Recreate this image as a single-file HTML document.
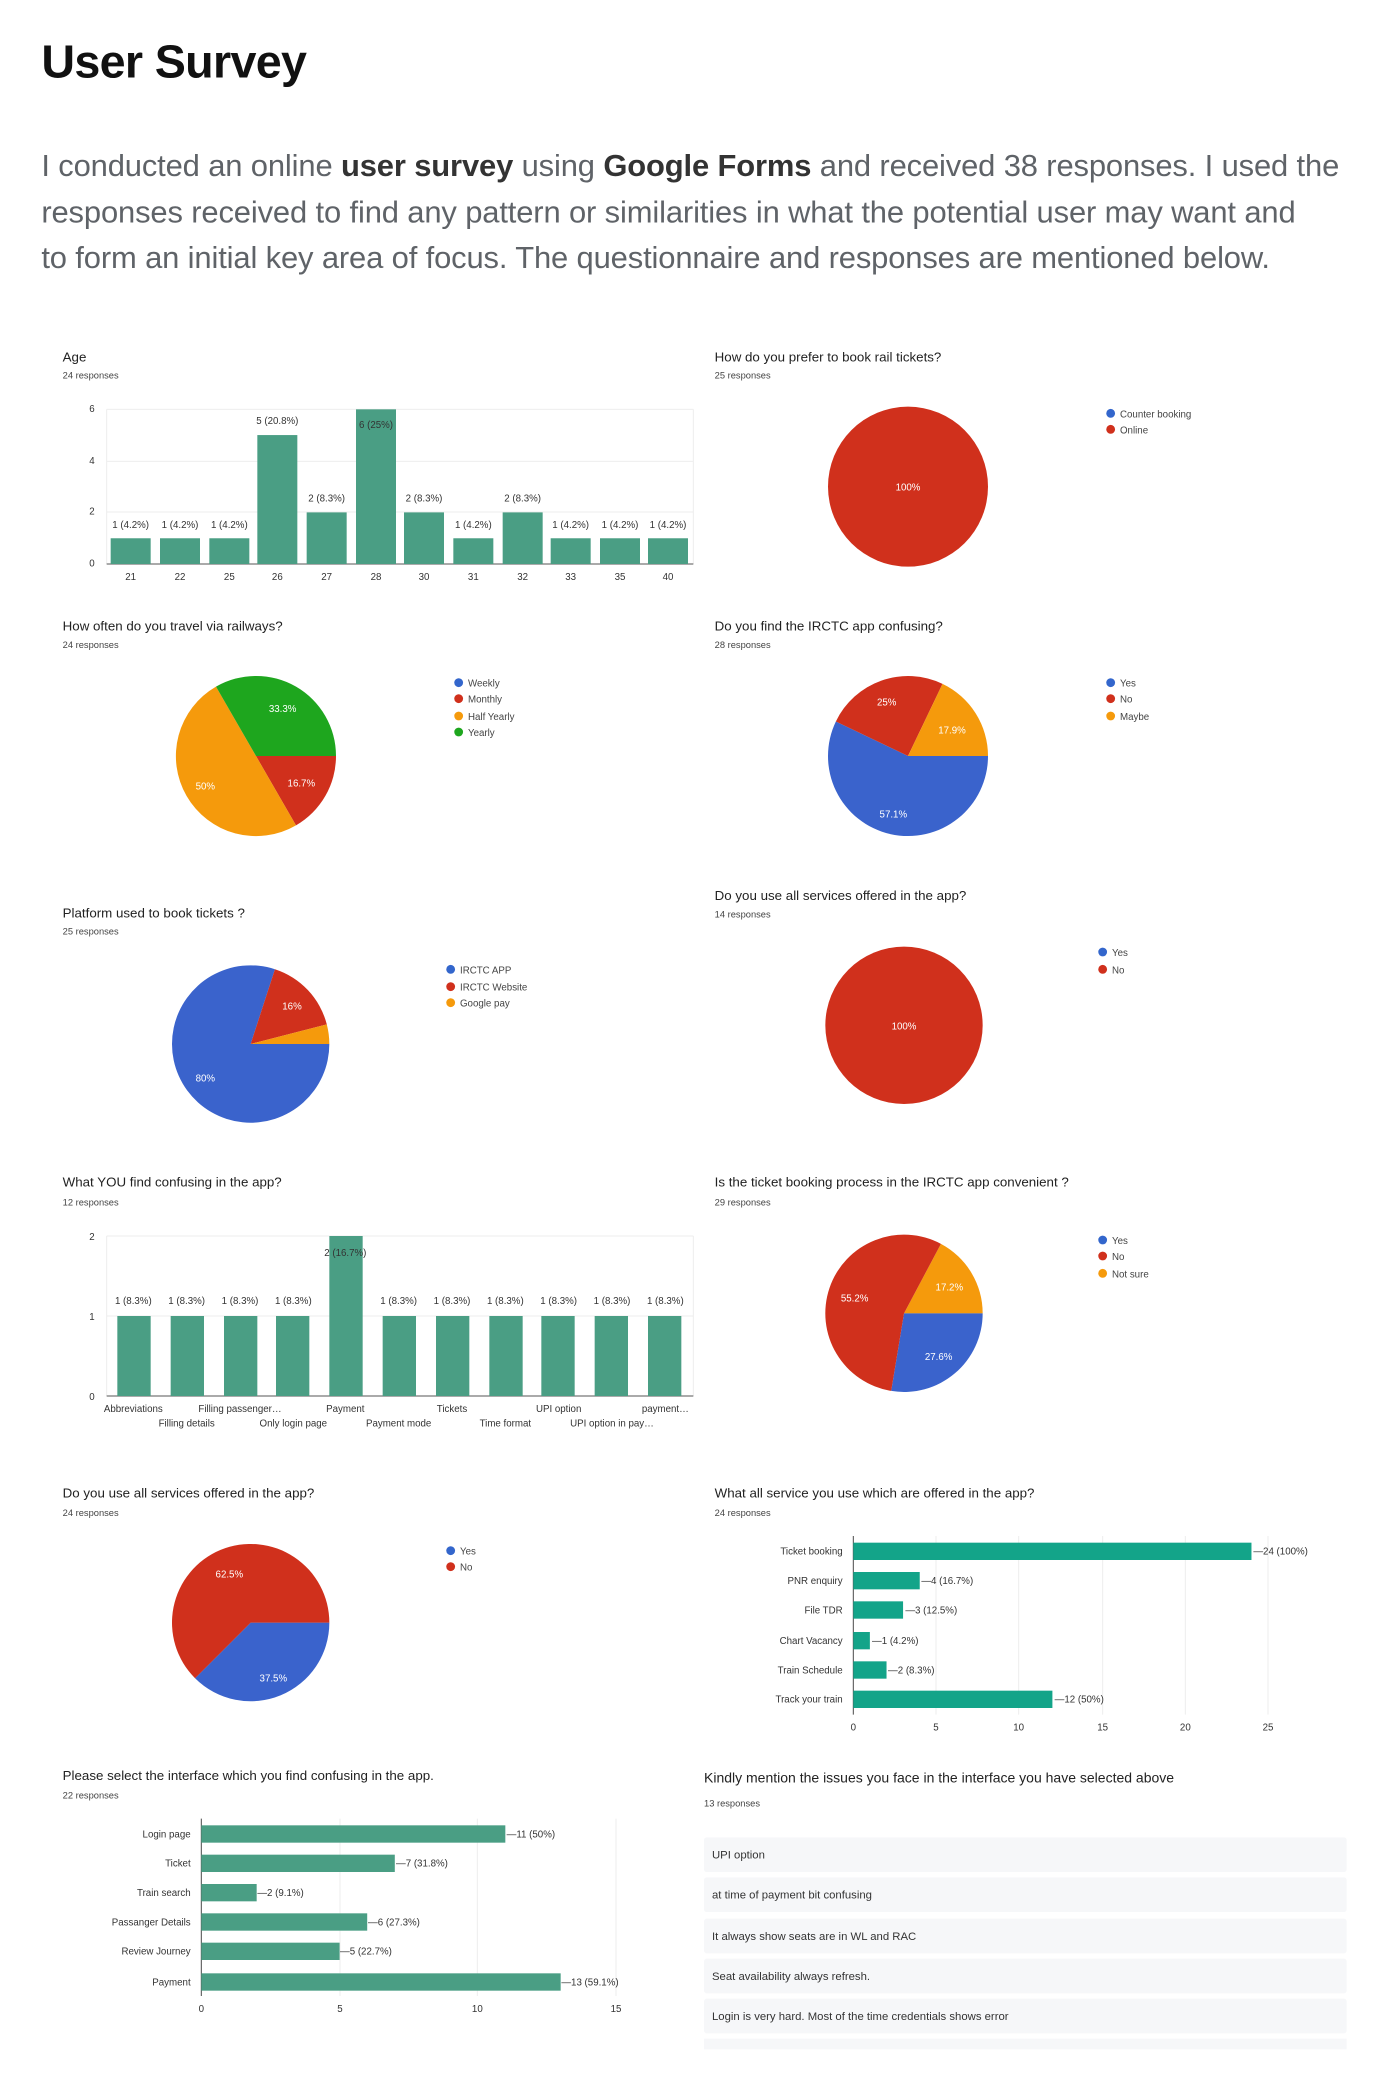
<!DOCTYPE html>
<html><head><meta charset="utf-8"><style>
html,body{margin:0;padding:0;background:#fff;}
svg{display:block}
text{font-family:"Liberation Sans",Arial,sans-serif;fill:#333}
.t{font-size:10px;fill:#222}
.r{font-size:7px;fill:#444}
.s{font-size:7.3px;fill:#444}
.w{font-size:7.3px;fill:#fff}
.g{stroke:#ececec;stroke-width:0.7}
</style></head><body>
<svg width="1400" height="2092" viewBox="0 0 1050 1569" preserveAspectRatio="none" xmlns="http://www.w3.org/2000/svg">
<rect width="1050" height="1569" fill="#fff"/>
<text x="31" y="58" style="font-size:35px;font-weight:bold;fill:#111;letter-spacing:-0.5px">User Survey</text>
<g style="font-size:23.2px;letter-spacing:-0.1px">
<text x="31" y="132" style="fill:#5f6368">I conducted an online <tspan style="font-weight:bold;fill:#333">user survey</tspan> using <tspan style="font-weight:bold;fill:#333">Google Forms</tspan> and received 38 responses. I used the</text>
<text x="31" y="167" style="fill:#5f6368">responses received to find any pattern or similarities in what the potential user may want and</text>
<text x="31" y="201" style="fill:#5f6368">to form an initial key area of focus. The questionnaire and responses are mentioned below.</text>
</g>

<!-- Age -->
<text class="t" x="47" y="271">Age</text><text class="r" x="47" y="284">24 responses</text>
<line class="g" x1="80" y1="307" x2="520" y2="307"/><line class="g" x1="80" y1="346" x2="520" y2="346"/><line class="g" x1="80" y1="384" x2="520" y2="384"/>
<line class="g" x1="520" y1="307" x2="520" y2="423"/><line class="g" x1="80" y1="307" x2="80" y2="423"/>
<line x1="80" y1="423" x2="520" y2="423" stroke="#555" stroke-width="0.8"/>
<g class="s" text-anchor="end"><text x="71" y="309">6</text><text x="71" y="348">4</text><text x="71" y="386">2</text><text x="71" y="425">0</text></g>
<g fill="#4a9e84">
<rect x="83" y="403.7" width="30" height="19.3"/><rect x="120" y="403.7" width="30" height="19.3"/><rect x="157" y="403.7" width="30" height="19.3"/>
<rect x="193" y="326.3" width="30" height="96.7"/><rect x="230" y="384.3" width="30" height="38.7"/><rect x="267" y="307" width="30" height="116"/>
<rect x="303" y="384.3" width="30" height="38.7"/><rect x="340" y="403.7" width="30" height="19.3"/><rect x="377" y="384.3" width="30" height="38.7"/>
<rect x="413" y="403.7" width="30" height="19.3"/><rect x="450" y="403.7" width="30" height="19.3"/><rect x="486" y="403.7" width="30" height="19.3"/>
</g>
<g class="s" text-anchor="middle">
<text x="98" y="396">1 (4.2%)</text><text x="135" y="396">1 (4.2%)</text><text x="172" y="396">1 (4.2%)</text><text x="208" y="318">5 (20.8%)</text>
<text x="245" y="376">2 (8.3%)</text><text x="282" y="321">6 (25%)</text><text x="318" y="376">2 (8.3%)</text><text x="355" y="396">1 (4.2%)</text>
<text x="392" y="376">2 (8.3%)</text><text x="428" y="396">1 (4.2%)</text><text x="465" y="396">1 (4.2%)</text><text x="501" y="396">1 (4.2%)</text>
<text x="98" y="435">21</text><text x="135" y="435">22</text><text x="172" y="435">25</text><text x="208" y="435">26</text><text x="245" y="435">27</text><text x="282" y="435">28</text>
<text x="318" y="435">30</text><text x="355" y="435">31</text><text x="392" y="435">32</text><text x="428" y="435">33</text><text x="465" y="435">35</text><text x="501" y="435">40</text>
</g>

<!-- rail tickets -->
<text class="t" x="536" y="271">How do you prefer to book rail tickets?</text><text class="r" x="536" y="284">25 responses</text>
<circle cx="681" cy="365" r="60" fill="#d0301c"/><text class="w" x="681" y="368" text-anchor="middle">100%</text>
<circle cx="833" cy="310" r="3.3" fill="#3366cc"/><text class="s" x="840" y="313">Counter booking</text>
<circle cx="833" cy="322" r="3.3" fill="#d0301c"/><text class="s" x="840" y="325">Online</text>

<!-- travel -->
<text class="t" x="47" y="473">How often do you travel via railways?</text><text class="r" x="47" y="486">24 responses</text>
<path d="M192,567 L252,567 A60,60 0 0 1 222,619 Z" fill="#d0301c"/>
<path d="M192,567 L222,619 A60,60 0 1 1 162,515 Z" fill="#f59a0c"/>
<path d="M192,567 L162,515 A60,60 0 0 1 252,567 Z" fill="#1ea61e"/>
<text class="w" x="212" y="534" text-anchor="middle">33.3%</text><text class="w" x="226" y="590" text-anchor="middle">16.7%</text><text class="w" x="154" y="592" text-anchor="middle">50%</text>
<circle cx="344" cy="512" r="3.3" fill="#3366cc"/><text class="s" x="351" y="515">Weekly</text>
<circle cx="344" cy="524" r="3.3" fill="#d0301c"/><text class="s" x="351" y="527">Monthly</text>
<circle cx="344" cy="537" r="3.3" fill="#f59a0c"/><text class="s" x="351" y="540">Half Yearly</text>
<circle cx="344" cy="549" r="3.3" fill="#1ea61e"/><text class="s" x="351" y="552">Yearly</text>

<!-- confusing -->
<text class="t" x="536" y="473">Do you find the IRCTC app confusing?</text><text class="r" x="536" y="486">28 responses</text>
<path d="M681,567 L741,567 A60,60 0 1 1 626.9,541.1 Z" fill="#3a63cc"/>
<path d="M681,567 L626.9,541.1 A60,60 0 0 1 706.9,512.9 Z" fill="#d0301c"/>
<path d="M681,567 L706.9,512.9 A60,60 0 0 1 741,567 Z" fill="#f59a0c"/>
<text class="w" x="665" y="529" text-anchor="middle">25%</text><text class="w" x="714" y="550" text-anchor="middle">17.9%</text><text class="w" x="670" y="613" text-anchor="middle">57.1%</text>
<circle cx="833" cy="512" r="3.3" fill="#3366cc"/><text class="s" x="840" y="515">Yes</text>
<circle cx="833" cy="524" r="3.3" fill="#d0301c"/><text class="s" x="840" y="527">No</text>
<circle cx="833" cy="537" r="3.3" fill="#f59a0c"/><text class="s" x="840" y="540">Maybe</text>

<!-- platform -->
<text class="t" x="47" y="688">Platform used to book tickets ?</text><text class="r" x="47" y="701">25 responses</text>
<path d="M188,783 L247,783 A59,59 0 1 1 206.2,726.9 Z" fill="#3a63cc"/>
<path d="M188,783 L206.2,726.9 A59,59 0 0 1 245.1,768.3 Z" fill="#d0301c"/>
<path d="M188,783 L245.1,768.3 A59,59 0 0 1 247,783 Z" fill="#f59a0c"/>
<text class="w" x="219" y="757" text-anchor="middle">16%</text><text class="w" x="154" y="811" text-anchor="middle">80%</text>
<circle cx="338" cy="727" r="3.3" fill="#3366cc"/><text class="s" x="345" y="730">IRCTC APP</text>
<circle cx="338" cy="740" r="3.3" fill="#d0301c"/><text class="s" x="345" y="743">IRCTC Website</text>
<circle cx="338" cy="752" r="3.3" fill="#f59a0c"/><text class="s" x="345" y="755">Google pay</text>

<text class="t" x="536" y="675">Do you use all services offered in the app?</text><text class="r" x="536" y="688">14 responses</text>
<circle cx="678" cy="769" r="59" fill="#d0301c"/><text class="w" x="678" y="772" text-anchor="middle">100%</text>
<circle cx="827" cy="714" r="3.3" fill="#3366cc"/><text class="s" x="834" y="717">Yes</text>
<circle cx="827" cy="727" r="3.3" fill="#d0301c"/><text class="s" x="834" y="730">No</text>

<!-- what you find confusing -->
<text class="t" x="47" y="890">What YOU find confusing in the app?</text><text class="r" x="47" y="904">12 responses</text>
<line class="g" x1="80" y1="927" x2="520" y2="927"/><line class="g" x1="80" y1="987" x2="520" y2="987"/><line class="g" x1="80" y1="927" x2="80" y2="1047"/><line class="g" x1="520" y1="927" x2="520" y2="1047"/>
<line x1="80" y1="1047" x2="520" y2="1047" stroke="#555" stroke-width="0.8"/>
<g class="s" text-anchor="end"><text x="71" y="930">2</text><text x="71" y="990">1</text><text x="71" y="1050">0</text></g>
<g fill="#4a9e84">
<rect x="88" y="987" width="25" height="60"/><rect x="128" y="987" width="25" height="60"/><rect x="168" y="987" width="25" height="60"/><rect x="207" y="987" width="25" height="60"/>
<rect x="247" y="927" width="25" height="120"/><rect x="287" y="987" width="25" height="60"/><rect x="327" y="987" width="25" height="60"/><rect x="367" y="987" width="25" height="60"/>
<rect x="406" y="987" width="25" height="60"/><rect x="446" y="987" width="25" height="60"/><rect x="486" y="987" width="25" height="60"/>
</g>
<g class="s" text-anchor="middle">
<text x="100" y="978">1 (8.3%)</text><text x="140" y="978">1 (8.3%)</text><text x="180" y="978">1 (8.3%)</text><text x="220" y="978">1 (8.3%)</text>
<text x="259" y="942">2 (16.7%)</text><text x="299" y="978">1 (8.3%)</text><text x="339" y="978">1 (8.3%)</text><text x="379" y="978">1 (8.3%)</text>
<text x="419" y="978">1 (8.3%)</text><text x="459" y="978">1 (8.3%)</text><text x="499" y="978">1 (8.3%)</text>
<text x="100" y="1059">Abbreviations</text><text x="180" y="1059">Filling passenger…</text><text x="259" y="1059">Payment</text><text x="339" y="1059">Tickets</text><text x="419" y="1059">UPI option</text><text x="499" y="1059">payment…</text>
<text x="140" y="1070">Filling details</text><text x="220" y="1070">Only login page</text><text x="299" y="1070">Payment mode</text><text x="379" y="1070">Time format</text><text x="459" y="1070">UPI option in pay…</text>
</g>

<!-- convenient -->
<text class="t" x="536" y="890">Is the ticket booking process in the IRCTC app convenient ?</text><text class="r" x="536" y="904">29 responses</text>
<path d="M678,985 L705.7,932.9 A59,59 0 0 1 737,985 Z" fill="#f59a0c"/>
<path d="M678,985 L737,985 A59,59 0 0 1 668.4,1043.2 Z" fill="#3a63cc"/>
<path d="M678,985 L668.4,1043.2 A59,59 0 1 1 705.7,932.9 Z" fill="#d0301c"/>
<text class="w" x="641" y="976" text-anchor="middle">55.2%</text><text class="w" x="712" y="968" text-anchor="middle">17.2%</text><text class="w" x="704" y="1020" text-anchor="middle">27.6%</text>
<circle cx="827" cy="930" r="3.3" fill="#3366cc"/><text class="s" x="834" y="933">Yes</text>
<circle cx="827" cy="942" r="3.3" fill="#d0301c"/><text class="s" x="834" y="945">No</text>
<circle cx="827" cy="955" r="3.3" fill="#f59a0c"/><text class="s" x="834" y="958">Not sure</text>

<!-- all services 24 -->
<text class="t" x="47" y="1123">Do you use all services offered in the app?</text><text class="r" x="47" y="1137">24 responses</text>
<path d="M188,1217 L247,1217 A59,59 0 0 1 146.3,1258.7 Z" fill="#3a63cc"/>
<path d="M188,1217 L146.3,1258.7 A59,59 0 1 1 247,1217 Z" fill="#d0301c"/>
<text class="w" x="172" y="1183" text-anchor="middle">62.5%</text><text class="w" x="205" y="1261" text-anchor="middle">37.5%</text>
<circle cx="338" cy="1163" r="3.3" fill="#3366cc"/><text class="s" x="345" y="1166">Yes</text>
<circle cx="338" cy="1175" r="3.3" fill="#d0301c"/><text class="s" x="345" y="1178">No</text>

<!-- services horizontal -->
<text class="t" x="536" y="1123">What all service you use which are offered in the app?</text><text class="r" x="536" y="1137">24 responses</text>
<g class="g"><line x1="702" y1="1152" x2="702" y2="1286"/><line x1="764" y1="1152" x2="764" y2="1286"/><line x1="827" y1="1152" x2="827" y2="1286"/><line x1="889" y1="1152" x2="889" y2="1286"/><line x1="951" y1="1152" x2="951" y2="1286"/></g>
<line x1="640" y1="1152" x2="640" y2="1286" stroke="#555" stroke-width="0.8"/>
<g fill="#13a489">
<rect x="640" y="1157" width="298.6" height="13"/><rect x="640" y="1179" width="49.8" height="13"/><rect x="640" y="1201" width="37.3" height="13"/>
<rect x="640" y="1224" width="12.4" height="13"/><rect x="640" y="1246" width="24.9" height="13"/><rect x="640" y="1268" width="149.3" height="13"/>
</g>
<g class="s" text-anchor="end"><text x="632" y="1166">Ticket booking</text><text x="632" y="1188">PNR enquiry</text><text x="632" y="1210">File TDR</text><text x="632" y="1233">Chart Vacancy</text><text x="632" y="1255">Train Schedule</text><text x="632" y="1277">Track your train</text></g>
<g class="s"><text x="940" y="1166">—24 (100%)</text><text x="691" y="1188">—4 (16.7%)</text><text x="679" y="1210">—3 (12.5%)</text><text x="654" y="1233">—1 (4.2%)</text><text x="666" y="1255">—2 (8.3%)</text><text x="791" y="1277">—12 (50%)</text></g>
<g class="s" text-anchor="middle"><text x="640" y="1298">0</text><text x="702" y="1298">5</text><text x="764" y="1298">10</text><text x="827" y="1298">15</text><text x="889" y="1298">20</text><text x="951" y="1298">25</text></g>

<!-- interface -->
<text class="t" x="47" y="1335">Please select the interface which you find confusing in the app.</text><text class="r" x="47" y="1349">22 responses</text>
<g class="g"><line x1="255" y1="1364" x2="255" y2="1497"/><line x1="358" y1="1364" x2="358" y2="1497"/><line x1="462" y1="1364" x2="462" y2="1497"/></g>
<line x1="151" y1="1364" x2="151" y2="1497" stroke="#555" stroke-width="0.8"/>
<g fill="#4a9e84">
<rect x="151" y="1369" width="228" height="13"/><rect x="151" y="1391" width="145.1" height="13"/><rect x="151" y="1413" width="41.5" height="13"/>
<rect x="151" y="1435" width="124.4" height="13"/><rect x="151" y="1457" width="103.7" height="13"/><rect x="151" y="1480" width="269.5" height="13"/>
</g>
<g class="s" text-anchor="end"><text x="143" y="1378">Login page</text><text x="143" y="1400">Ticket</text><text x="143" y="1422">Train search</text><text x="143" y="1444">Passanger Details</text><text x="143" y="1466">Review Journey</text><text x="143" y="1489">Payment</text></g>
<g class="s"><text x="380" y="1378">—11 (50%)</text><text x="297" y="1400">—7 (31.8%)</text><text x="193" y="1422">—2 (9.1%)</text><text x="276" y="1444">—6 (27.3%)</text><text x="255" y="1466">—5 (22.7%)</text><text x="421" y="1489">—13 (59.1%)</text></g>
<g class="s" text-anchor="middle"><text x="151" y="1509">0</text><text x="255" y="1509">5</text><text x="358" y="1509">10</text><text x="462" y="1509">15</text></g>

<!-- text responses -->
<text x="528" y="1337" style="font-size:10.5px;fill:#222">Kindly mention the issues you face in the interface you have selected above</text>
<text class="r" x="528" y="1355">13 responses</text>
<g fill="#f6f7f9">
<rect x="528" y="1378" width="482" height="26" rx="2"/><rect x="528" y="1408" width="482" height="26" rx="2"/><rect x="528" y="1439" width="482" height="26" rx="2"/><rect x="528" y="1469" width="482" height="26" rx="2"/><rect x="528" y="1499" width="482" height="26" rx="2"/><rect x="528" y="1529" width="482" height="8"/>
</g>
<g style="font-size:8.5px"><text x="534" y="1394" style="fill:#333">UPI option</text><text x="534" y="1424" style="fill:#333">at time of payment bit confusing</text><text x="534" y="1455" style="fill:#333">It always show seats are in WL and RAC</text><text x="534" y="1485" style="fill:#333">Seat availability always refresh.</text><text x="534" y="1515" style="fill:#333">Login is very hard. Most of the time credentials shows error</text></g>
</svg>
</body></html>
